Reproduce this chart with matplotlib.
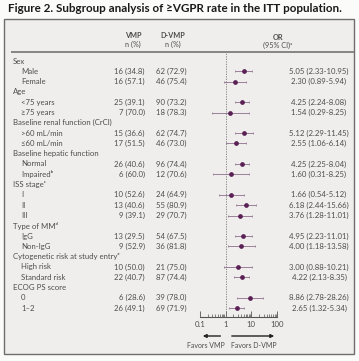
import matplotlib
matplotlib.use('Agg')
import matplotlib.pyplot as plt
from matplotlib.patches import Rectangle
import numpy as np

plt.rcParams['font.family'] = ['Lato', 'DejaVu Sans']

# Zeilen der Tabelle
title = 'Figure 2. Subgroup analysis of ≥VGPR rate in the ITT population.'
labels = ['Sex', 'Male', 'Female', 'Age', '<75 years', '≥75 years',
          'Baseline renal function (CrCl)', '>60 mL/min', '≤60 mL/min',
          'Baseline hepatic function', 'Normal', 'Impairedᵇ',
          'ISS stageᶜ', 'I', 'II', 'III',
          'Type of MMᵈ', 'IgG', 'Non-IgG',
          'Cytogenetic risk at study entryᵉ', 'High risk', 'Standard risk',
          'ECOG PS score', '0', '1–2']
is_group = [1, 0, 0, 1, 0, 0, 1, 0, 0, 1, 0, 0, 1, 0, 0, 0, 1, 0, 0, 1, 0, 0, 1, 0, 0]

vmp = ['16 (34.8)', '16 (57.1)', '25 (39.1)', '7 (70.0)', '15 (36.6)', '17 (51.5)',
       '26 (40.6)', '6 (60.0)', '10 (52.6)', '13 (40.6)', '9 (39.1)',
       '13 (29.5)', '9 (52.9)', '10 (50.0)', '22 (40.7)', '6 (28.6)', '26 (49.1)']
dvmp = ['62 (72.9)', '46 (75.4)', '90 (73.2)', '18 (78.3)', '62 (74.7)', '46 (73.0)',
        '96 (74.4)', '12 (70.6)', '24 (64.9)', '55 (80.9)', '29 (70.7)',
        '54 (67.5)', '36 (81.8)', '21 (75.0)', '87 (74.4)', '39 (78.0)', '69 (71.9)']
odds = [5.05, 2.30, 4.25, 1.54, 5.12, 2.55, 4.25, 1.60, 1.66, 6.18, 3.76,
        4.95, 4.00, 3.00, 4.22, 8.86, 2.65]
ci_lo = [2.33, 0.89, 2.24, 0.29, 2.29, 1.06, 2.25, 0.31, 0.54, 2.44, 1.28,
         2.23, 1.18, 0.88, 2.13, 2.78, 1.32]
ci_hi = [10.95, 5.94, 8.08, 8.25, 11.45, 6.14, 8.04, 8.25, 5.12, 15.66, 11.01,
         11.01, 13.58, 10.21, 8.35, 28.26, 5.34]
ticks = [0.1, 1, 10, 100]

txt = '#4d4d4d'
W, H = 359, 361
fig = plt.figure(figsize=(W / 100, H / 100), dpi=100)
fig.patch.set_facecolor('#fbfbfa')
renderer = fig.canvas.get_renderer()


def fit_size(s, target, size=6.0, **kw):
    # Schriftgroesse so waehlen, dass der Text target Pixel breit ist
    t = fig.text(0, 0, s, fontsize=size, **kw)
    w = t.get_window_extent(renderer).width
    t.remove()
    return size * target / w


fs_title = fit_size(title, 335, weight='bold')
fs = fit_size(labels[6], 100)
fs_head = fs * 0.93
fs_fav = fit_size('Favors D-VMP', 46)

# Hauptachse: x in Pixel, y in Zeilen
y0, dy = 61, 10.3
ax = fig.add_axes([0, 0, 1, 1])
ax.set_xlim(0, W)
ax.set_ylim((H - y0) / dy, -y0 / dy)
ax.axis('off')


def py(p):
    return (p - y0) / dy


ax.add_patch(Rectangle((4, py(19)), 350, py(354) - py(19), facecolor='#efeeec',
                       edgecolor='#6e6e6e', lw=1.0))
ax.text(8, py(8), title, fontsize=fs_title, fontweight='bold', color='#1a1a1a',
        va='center', ha='left')

ax.plot([12, 353], [py(51.5), py(51.5)], color='#858585', lw=1.4)
ax.text(133, py(35), 'VMP', fontsize=fs_head, fontweight='bold', color=txt, ha='center', va='center')
ax.text(133, py(44), 'n (%)', fontsize=fs_head, color=txt, ha='center', va='center')
ax.text(173, py(35), 'D-VMP', fontsize=fs_head, fontweight='bold', color=txt, ha='center', va='center')
ax.text(173, py(44), 'n (%)', fontsize=fs_head, color=txt, ha='center', va='center')
ax.text(278, py(37), 'OR', fontsize=fs_head, fontweight='bold', color=txt, ha='center', va='center')
ax.text(278, py(45), '(95% CI)ᵃ', fontsize=fs_head, color=txt, ha='center', va='center')

rows = [i for i, g in enumerate(is_group) if not g]
for i, lab in enumerate(labels):
    ax.text(13 if is_group[i] else 21, i, lab, fontsize=fs, color=txt,
            ha='left', va='center')
for k, i in enumerate(rows):
    ax.text(145, i, vmp[k], fontsize=fs, color=txt, ha='right', va='center')
    ax.text(187, i, dvmp[k], fontsize=fs, color=txt, ha='right', va='center')
    ax.text(319, i, '%.2f (%.2f-%.2f)' % (odds[k], ci_lo[k], ci_hi[k]),
            fontsize=fs, color=txt, ha='center', va='center')

# Forest-Plot
fx0, fx1 = 200, 277
top, bot = 51.5, 317
fa = fig.add_axes([fx0 / W, 1 - bot / H, (fx1 - fx0) / W, (bot - top) / H])
fa.patch.set_alpha(0)
fa.set_xscale('log')
fa.set_xlim(ticks[0], ticks[-1])
fa.set_ylim(py(bot), py(top))
for s in ['top', 'left', 'right']:
    fa.spines[s].set_visible(False)
fa.spines['bottom'].set_color('#555555')
fa.spines['bottom'].set_linewidth(0.8)
fa.set_yticks([])
fa.set_xticks(ticks)
fa.set_xticklabels(['%g' % t for t in ticks])
fa.tick_params(axis='x', which='major', direction='in', length=4, width=0.6,
               colors='#555555', labelsize=fs, labelcolor=txt, pad=3)
fa.tick_params(axis='x', which='minor', direction='in', length=2.2, width=0.5,
               colors='#555555')
fa.axvline(1, color='#777777', lw=0.6, ls=(0, (1.5, 1.5)))

y_rows = np.array(rows)
fa.errorbar(odds, y_rows, xerr=[np.array(odds) - np.array(ci_lo), np.array(ci_hi) - np.array(odds)],
            fmt='o', ms=2.4, color='#5a1f55', ecolor='#8c6d8a', elinewidth=0.6,
            capsize=1.0, capthick=0.5, clip_on=False)

# Pfeile und Beschriftung
ya = py(336)
fa.annotate('', xy=(0.1, ya), xytext=(0.8, ya), annotation_clip=False,
            arrowprops=dict(arrowstyle='-|>', color='#222222', lw=1.0, mutation_scale=5))
fa.annotate('', xy=(100, ya), xytext=(1.35, ya), annotation_clip=False,
            arrowprops=dict(arrowstyle='-|>', color='#222222', lw=1.0, mutation_scale=5))
ax.text(206, py(345.5), 'Favors VMP', fontsize=fs_fav, color=txt, ha='center', va='center')
ax.text(254, py(345.5), 'Favors D-VMP', fontsize=fs_fav, color=txt, ha='center', va='center')

plt.savefig('out.png', dpi=100, facecolor=fig.get_facecolor())
